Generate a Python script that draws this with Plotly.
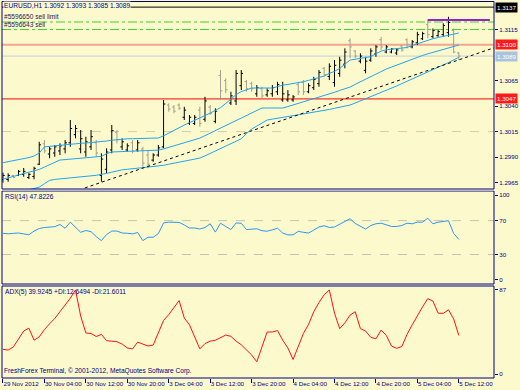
import plotly.graph_objects as go

# ---------------- data ----------------
time_labels = ["29 Nov 2012", "30 Nov 04:00", "30 Nov 12:00", "30 Nov 20:00", "3 Dec 04:00",
               "3 Dec 12:00", "3 Dec 20:00", "4 Dec 04:00", "4 Dec 12:00", "4 Dec 20:00",
               "5 Dec 04:00", "5 Dec 12:00"]
label_bars = [0, 8, 16, 24, 32, 40, 48, 56, 64, 72, 80, 88]

opens = [
    1.2968, 1.2968, 1.2972, 1.2972, 1.2973, 1.2970, 1.2971, 1.2983, 1.3003, 1.2993,
    1.2994, 1.2996, 1.2998, 1.3004, 1.3012, 1.2998, 1.2995, 1.3000, 1.3004, 1.2972,
    1.2978, 1.2997, 1.3014, 1.3000, 1.2997, 1.3004, 1.2997, 1.2998, 1.2992, 1.2987,
    1.2992, 1.3000, 1.3041, 1.3039, 1.3041, 1.3029, 1.3023, 1.3023, 1.3036, 1.3027,
    1.3039, 1.3025, 1.3070, 1.3065, 1.3043, 1.3045, 1.3060, 1.3064, 1.3062, 1.3052,
    1.3057, 1.3051, 1.3052, 1.3054, 1.3046, 1.3046, 1.3046, 1.3061, 1.3063, 1.3054,
    1.3058, 1.3062, 1.3077, 1.3069, 1.3063, 1.3072, 1.3081, 1.3104, 1.3094, 1.3084,
    1.3075, 1.3085, 1.3091, 1.3105, 1.3093, 1.3093, 1.3092, 1.3099, 1.3105, 1.3098,
    1.3102, 1.3106, 1.3120, 1.3108, 1.3109, 1.3110, 1.3112, 1.3114, 1.3092]
highs = [
    1.29747, 1.29741, 1.29724, 1.29773, 1.29793, 1.29744, 1.29805, 1.30050, 1.30067, 1.30001,
    1.30018, 1.30035, 1.30067, 1.30263, 1.30214, 1.30165, 1.30099, 1.30165, 1.30067, 1.29937,
    1.29986, 1.30214, 1.30165, 1.30084, 1.30035, 1.30067, 1.30067, 1.30001, 1.29969, 1.29937,
    1.30018, 1.30459, 1.30427, 1.30410, 1.30427, 1.30393, 1.30312, 1.30312, 1.30393, 1.30491,
    1.30410, 1.30378, 1.30753, 1.30672, 1.30540, 1.30753, 1.30753, 1.30655, 1.30638, 1.30606,
    1.30589, 1.30574, 1.30606, 1.30638, 1.30638, 1.30557, 1.30508, 1.30638, 1.30655, 1.30623,
    1.30687, 1.30753, 1.30785, 1.30819, 1.30851, 1.30883, 1.30966, 1.31064, 1.30949, 1.30917,
    1.30883, 1.30966, 1.30998, 1.31079, 1.30998, 1.30966, 1.30966, 1.30998, 1.31064, 1.31047,
    1.31128, 1.31128, 1.31243, 1.31161, 1.31145, 1.31211, 1.31275, 1.31161, 1.30930]
lows = [
    1.29649, 1.29658, 1.29692, 1.29714, 1.29707, 1.29685, 1.29682, 1.29822, 1.29937, 1.29888,
    1.29903, 1.29920, 1.29937, 1.30001, 1.30084, 1.29937, 1.29903, 1.29969, 1.29903, 1.29658,
    1.29741, 1.29937, 1.30035, 1.29969, 1.29952, 1.29937, 1.29952, 1.29805, 1.29790, 1.29854,
    1.29903, 1.29986, 1.30344, 1.30329, 1.30361, 1.30263, 1.30214, 1.30214, 1.30197, 1.30246,
    1.30312, 1.30231, 1.30459, 1.30525, 1.30410, 1.30410, 1.30557, 1.30540, 1.30540, 1.30491,
    1.30476, 1.30491, 1.30491, 1.30508, 1.30442, 1.30442, 1.30442, 1.30508, 1.30508, 1.30525,
    1.30557, 1.30589, 1.30687, 1.30655, 1.30589, 1.30687, 1.30770, 1.30868, 1.30868, 1.30819,
    1.30721, 1.30834, 1.30883, 1.30949, 1.30917, 1.30917, 1.30900, 1.30932, 1.30966, 1.30966,
    1.30998, 1.31047, 1.31064, 1.31064, 1.31079, 1.31079, 1.31079, 1.30917, 1.30850]
closes = [
    1.2972, 1.2972, 1.2970, 1.2976, 1.2976, 1.2973, 1.2979, 1.3002, 1.2996, 1.2998,
    1.3000, 1.3001, 1.3004, 1.3018, 1.3018, 1.3008, 1.3005, 1.3010, 1.2994, 1.2988,
    1.2995, 1.3016, 1.3007, 1.3005, 1.3001, 1.2996, 1.3004, 1.2984, 1.2983, 1.2992,
    1.2999, 1.3042, 1.3037, 1.3035, 1.3038, 1.3036, 1.3029, 1.3029, 1.3023, 1.3045,
    1.3033, 1.3035, 1.3055, 1.3056, 1.3050, 1.3072, 1.3072, 1.3057, 1.3057, 1.3058,
    1.3050, 1.3055, 1.3058, 1.3061, 1.3052, 1.3051, 1.3049, 1.3054, 1.3054, 1.3060,
    1.3066, 1.3073, 1.3071, 1.3079, 1.3080, 1.3085, 1.3093, 1.3098, 1.3089, 1.3089,
    1.3084, 1.3094, 1.3098, 1.3098, 1.3098, 1.3096, 1.3095, 1.3095, 1.3100, 1.3103,
    1.3110, 1.3111, 1.3110, 1.3114, 1.3113, 1.3119, 1.3122, 1.3093, 1.3089]

band_upper = [
    1.29845, 1.29855, 1.29865, 1.29870, 1.29880, 1.29895, 1.29910, 1.29940, 1.30000, 1.30006,
    1.30010, 1.30017, 1.30022, 1.30028, 1.30032, 1.30035, 1.30038, 1.30042, 1.30045, 1.30049,
    1.30057, 1.30065, 1.30072, 1.30077, 1.30079, 1.30080, 1.30081, 1.30083, 1.30084, 1.30085,
    1.30087, 1.30108, 1.30136, 1.30165, 1.30191, 1.30214, 1.30237, 1.30259, 1.30283, 1.30307,
    1.30331, 1.30358, 1.30385, 1.30425, 1.30469, 1.30512, 1.30542, 1.30563, 1.30577, 1.30577,
    1.30577, 1.30577, 1.30577, 1.30590, 1.30605, 1.30612, 1.30620, 1.30628, 1.30639, 1.30652,
    1.30667, 1.30681, 1.30694, 1.30721, 1.30740, 1.30769, 1.30807, 1.30851, 1.30859, 1.30867,
    1.30875, 1.30885, 1.30912, 1.30939, 1.30952, 1.30958, 1.30964, 1.30969, 1.30974, 1.30994,
    1.31012, 1.31030, 1.31047, 1.31060, 1.31072, 1.31084, 1.31096, 1.31111, 1.31116]
band_middle = [
    1.29683, 1.29697, 1.29709, 1.29723, 1.29736, 1.29750, 1.29763, 1.29779, 1.29802, 1.29825,
    1.29848, 1.29871, 1.29875, 1.29879, 1.29883, 1.29887, 1.29890, 1.29894, 1.29897, 1.29907,
    1.29933, 1.29950, 1.29952, 1.29954, 1.29956, 1.29958, 1.29960, 1.29962, 1.29964, 1.29966,
    1.29968, 1.29980, 1.29995, 1.30010, 1.30025, 1.30041, 1.30056, 1.30071, 1.30086, 1.30110,
    1.30135, 1.30160, 1.30185, 1.30209, 1.30234, 1.30258, 1.30285, 1.30311, 1.30337, 1.30364,
    1.30381, 1.30381, 1.30381, 1.30381, 1.30381, 1.30395, 1.30410, 1.30425, 1.30439, 1.30455,
    1.30470, 1.30485, 1.30502, 1.30519, 1.30535, 1.30553, 1.30570, 1.30586, 1.30613, 1.30639,
    1.30666, 1.30692, 1.30718, 1.30744, 1.30763, 1.30782, 1.30802, 1.30821, 1.30840, 1.30860,
    1.30880, 1.30896, 1.30912, 1.30927, 1.30942, 1.30958, 1.30973, 1.30986, 1.30998]
band_lower = [
    1.29515, 1.29527, 1.29540, 1.29552, 1.29563, 1.29575, 1.29588, 1.29605, 1.29639, 1.29672,
    1.29681, 1.29687, 1.29693, 1.29698, 1.29703, 1.29706, 1.29711, 1.29716, 1.29721, 1.29727,
    1.29740, 1.29752, 1.29765, 1.29775, 1.29780, 1.29785, 1.29791, 1.29796, 1.29801, 1.29805,
    1.29810, 1.29819, 1.29830, 1.29840, 1.29850, 1.29860, 1.29870, 1.29880, 1.29890, 1.29912,
    1.29936, 1.29959, 1.29982, 1.30004, 1.30027, 1.30049, 1.30079, 1.30131, 1.30174, 1.30204,
    1.30234, 1.30263, 1.30272, 1.30282, 1.30291, 1.30299, 1.30306, 1.30314, 1.30322, 1.30329,
    1.30337, 1.30345, 1.30356, 1.30367, 1.30378, 1.30388, 1.30399, 1.30410, 1.30430, 1.30450,
    1.30470, 1.30490, 1.30510, 1.30531, 1.30552, 1.30575, 1.30597, 1.30620, 1.30642, 1.30665,
    1.30687, 1.30711, 1.30733, 1.30757, 1.30779, 1.30803, 1.30826, 1.30853, 1.30879]

rsi = [
    55.0, 54.5, 55.0, 55.4, 54.4, 53.3, 57.7, 60.7, 61.9, 62.3,
    62.9, 65.5, 61.0, 68.2, 62.0, 56.3, 58.3, 57.0, 51.2, 46.4,
    53.6, 57.7, 57.7, 55.4, 55.1, 54.4, 56.0, 46.4, 50.4, 50.4,
    54.8, 67.3, 68.2, 68.2, 67.9, 64.9, 61.3, 61.3, 60.1, 61.9,
    66.3, 56.5, 67.0, 63.1, 59.5, 67.3, 66.9, 59.5, 60.1, 60.4,
    58.1, 57.5, 59.2, 61.0, 55.4, 53.2, 53.2, 57.4, 56.2, 55.4,
    58.9, 62.5, 64.0, 61.9, 62.5, 66.1, 69.0, 72.3, 66.7, 63.7,
    60.1, 64.3, 66.3, 67.0, 65.5, 63.1, 63.1, 64.3, 67.0, 66.3,
    68.2, 68.2, 72.9, 66.3, 68.2, 69.4, 69.9, 55.0, 47.8226]
adx = [
    25.5, 24.8, 28.0, 37.0, 44.5, 47.5, 35.0, 38.5, 46.0, 52.0,
    57.5, 64.5, 71.5, 78.5, 87.0, 60.0, 42.5, 42.0, 38.8, 41.0,
    34.5, 34.2, 33.5, 31.0, 27.0, 26.0, 33.0, 31.0, 29.0, 30.0,
    43.0, 55.5, 61.5, 68.5, 76.0, 58.0, 51.0, 38.5, 26.0, 31.5,
    34.0, 35.0, 38.0, 40.3, 39.0, 34.0, 30.3, 25.0, 19.7, 12.7,
    29.0, 43.5, 43.5, 45.0, 35.0, 27.0, 15.0, 29.0, 42.0, 51.5,
    64.5, 74.0, 82.0, 87.0, 63.0, 47.0, 53.0, 61.0, 64.5, 47.0,
    44.5, 38.0, 36.5, 45.5, 40.0, 29.0, 26.6, 28.5, 41.0, 51.0,
    61.0, 69.5, 78.0, 75.5, 63.0, 62.8, 66.5, 57.0, 39.9245]

trend_x = [15.8, 95.0]
trend_y = [1.29597, 1.30975]
high_mark_x = [82, 94]
high_mark_y = [1.31243, 1.31243]

level_black = 1.3137
level_sell_limit = 1.31224
level_sell = 1.3115
level_salmon = 1.3100
level_bid = 1.3089
level_red = 1.3047
level_dashed = 1.3015

price_ticks = [1.3115, 1.3065, 1.3040, 1.3015, 1.2990, 1.2965]
price_tick_text = ["1.3115", "1.3065", "1.3040", "1.3015", "1.2990", "1.2965"]
rsi_ticks = [0, 30, 70, 100]
adx_ticks = [0, 87]

# ---------------- layout helpers ----------------
W, H = 520, 390
BG = "#fcfacd"
NAVY = "#000080"
FONT = "Liberation Sans"
FS = 6.6
TFS = 6.2

def py(px):  # pixel row -> paper y
    return 1 - px / H

x0p, x1p = 2 / W, 494 / W
price_dom = [py(189), py(1.5)]
rsi_dom = [py(284), py(191)]
adx_dom = [py(378), py(286)]

bars = list(range(len(opens)))

fig = go.Figure()

fig.add_trace(go.Ohlc(
    x=bars, open=opens, high=highs, low=lows, close=closes,
    increasing=dict(line=dict(color="#000000", width=1)),
    decreasing=dict(line=dict(color="#a39f8c", width=1)),
    tickwidth=0.35, xaxis="x", yaxis="y", hoverinfo="skip"))

for band in (band_upper, band_middle, band_lower):
    fig.add_trace(go.Scatter(x=bars, y=band, mode="lines",
                             line=dict(color="#22a4ec", width=1), xaxis="x", yaxis="y"))

fig.add_trace(go.Scatter(x=trend_x, y=trend_y, mode="lines",
                         line=dict(color="#000000", width=1, dash="dot"), xaxis="x", yaxis="y"))
fig.add_trace(go.Scatter(x=high_mark_x, y=high_mark_y, mode="lines",
                         line=dict(color="#9a1fd0", width=2), xaxis="x", yaxis="y"))

fig.add_trace(go.Scatter(x=bars, y=rsi, mode="lines",
                         line=dict(color="#2c97f0", width=1), xaxis="x", yaxis="y2"))
fig.add_trace(go.Scatter(x=bars, y=adx, mode="lines",
                         line=dict(color="#ff1010", width=1), xaxis="x", yaxis="y3"))

shapes = []
def hline(y, color, width=1, dash="solid", yref="y"):
    shapes.append(dict(type="line", xref="paper", x0=x0p, x1=x1p, yref=yref, y0=y, y1=y,
                       line=dict(color=color, width=width, dash=dash), layer="below"))

hline(level_dashed, "#d9cba6", 1, "dash")
hline(level_red, "#ff0000", 1)
hline(level_bid, "#c3cfdc", 1)
hline(level_salmon, "#f7a48e", 2)
hline(level_sell, "#44cc33", 1, "dashdot")
hline(level_sell_limit, "#44cc33", 1, "dashdot")
hline(level_black, "#000000", 1)
hline(70, "#c8c3b0", 1, "dash", "y2")
hline(30, "#c8c3b0", 1, "dash", "y2")

for dom in (price_dom, rsi_dom, adx_dom):
    shapes.append(dict(type="rect", xref="paper", yref="paper", x0=x0p, x1=x1p,
                       y0=dom[0], y1=dom[1], line=dict(color=NAVY, width=1), layer="above"))
shapes.append(dict(type="line", xref="paper", yref="paper", x0=x0p, x1=x1p,
                   y0=py(190.5), y1=py(190.5), line=dict(color="#b8b8b8", width=1)))

annotations = []
def text(xpx, ypx, s, color=NAVY, bg=None):
    annotations.append(dict(xref="paper", yref="paper", x=xpx / W, y=py(ypx), text=s,
                            showarrow=False, xanchor="left", yanchor="middle",
                            font=dict(family=FONT, size=FS, color=color),
                            bgcolor=bg, borderpad=0))

text(3, 5.5, "EURUSD,H1 1.3092 1.3093 1.3085 1.3089", NAVY, BG)
text(3, 17, "#5596650 sell limit", "#1a1a5a")
text(3, 25, "#5596643 sell", "#1a1a5a")
text(4, 197, "RSI(14) 47.8226")
text(4, 292, "ADX(5) 39.9245 +DI:12.6494 -DI:21.6011")
text(3, 371, "FreshForex Terminal, \u00a9 2001-2012, MetaQuotes Software Corp.")

def box(y, s, bg, fg="#ffffff"):
    annotations.append(dict(xref="paper", yref="y", x=495 / W, y=y, text=s, showarrow=False,
                            xanchor="left", yanchor="middle",
                            font=dict(family=FONT, size=TFS, color=fg),
                            bgcolor=bg, borderpad=1))

box(level_black, "1.3137", "#000000")
box(level_salmon, "1.3100", "#ff1a1a")
box(level_bid, "1.3089", "#a9c3dc")
box(level_red, "1.3047", "#ff1a1a")

axis_font = dict(family=FONT, size=TFS, color=NAVY)
common_y = dict(anchor="x", side="right", ticks="outside", ticklen=3, tickcolor=NAVY,
                tickfont=axis_font, showgrid=False, zeroline=False, showline=False,
                automargin=False)
fig.update_layout(
    width=W, height=H, margin=dict(l=0, r=0, t=0, b=0, autoexpand=False),
    paper_bgcolor=BG, plot_bgcolor=BG, showlegend=False,
    shapes=shapes, annotations=annotations,
    xaxis=dict(domain=[x0p, x1p], range=[-0.19, 94.79], anchor="y3",
               tickvals=label_bars, ticktext=time_labels, ticks="outside", ticklen=4,
               tickcolor=NAVY, tickfont=axis_font, ticklabelposition="outside right",
               tickangle=0, automargin=False,
               showgrid=False, zeroline=False, showline=False,
               rangeslider=dict(visible=False)),
    yaxis=dict(domain=price_dom, range=[1.29587, 1.31425],
               tickvals=price_ticks, ticktext=price_tick_text, **common_y),
    yaxis2=dict(domain=rsi_dom, range=[-4.8, 105], tickvals=rsi_ticks, **common_y),
    yaxis3=dict(domain=adx_dom, range=[-4.1, 91.1], tickvals=adx_ticks, **common_y),
)

fig.write_html("out.html", config={"displayModeBar": False},
               post_script="document.body.style.margin='0';document.body.style.padding='0';"
                           "document.body.style.overflow='hidden';"
                           "document.body.style.background='" + BG + "';")
